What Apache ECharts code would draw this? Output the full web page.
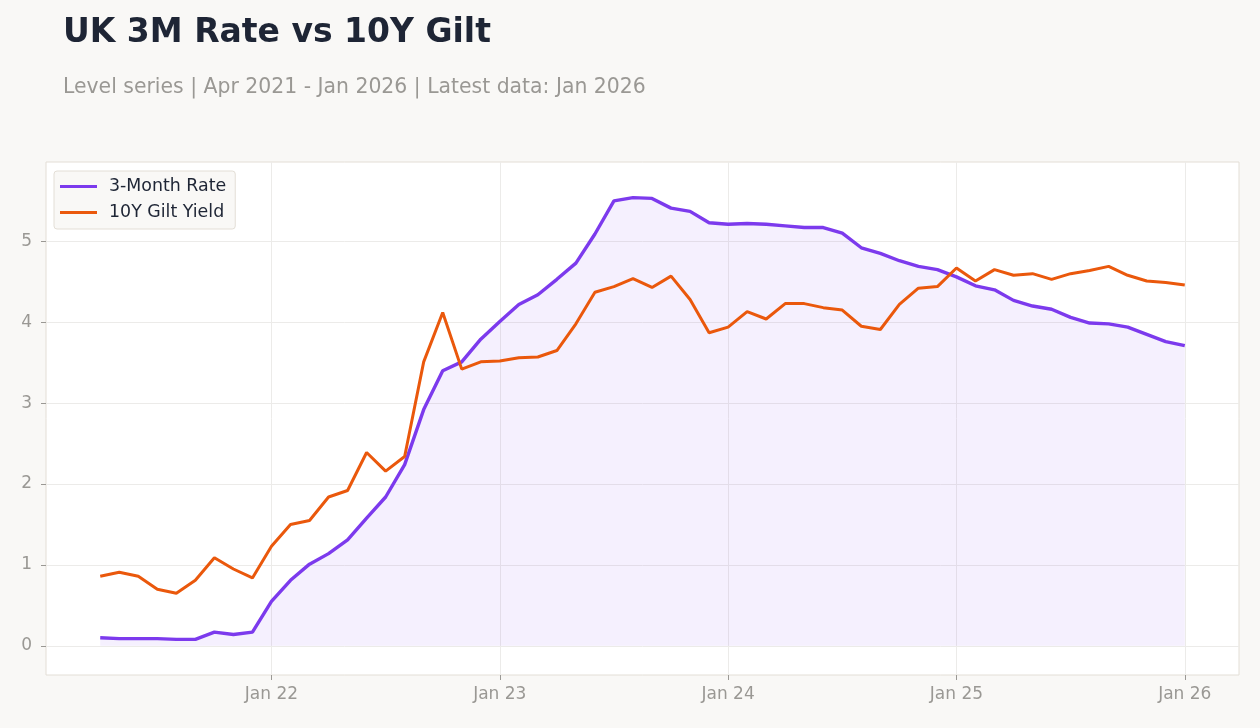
<!DOCTYPE html>
<html>
<head>
<meta charset="utf-8">
<title>UK 3M Rate vs 10Y Gilt</title>
<script src="https://cdn.jsdelivr.net/npm/echarts@6/dist/echarts.min.js"></script>
<style>
  html, body { margin: 0; padding: 0; background: #f9f8f6; }
  #chart { width: 1260px; height: 728px; }
</style>
</head>
<body>
<div id="chart"></div>
<script>
// monthly observations, Apr 2021 .. Jan 2026
const months = [
  '2021-04', '2021-05', '2021-06', '2021-07', '2021-08', '2021-09', '2021-10', '2021-11', '2021-12',
  '2022-01', '2022-02', '2022-03', '2022-04', '2022-05', '2022-06', '2022-07', '2022-08', '2022-09', '2022-10', '2022-11', '2022-12',
  '2023-01', '2023-02', '2023-03', '2023-04', '2023-05', '2023-06', '2023-07', '2023-08', '2023-09', '2023-10', '2023-11', '2023-12',
  '2024-01', '2024-02', '2024-03', '2024-04', '2024-05', '2024-06', '2024-07', '2024-08', '2024-09', '2024-10', '2024-11', '2024-12',
  '2025-01', '2025-02', '2025-03', '2025-04', '2025-05', '2025-06', '2025-07', '2025-08', '2025-09', '2025-10', '2025-11', '2025-12',
  '2026-01'
];

const rate3m = [
  0.10, 0.09, 0.09, 0.09, 0.08, 0.08, 0.17, 0.14, 0.17,
  0.55, 0.81, 1.01, 1.14, 1.31, 1.58, 1.84, 2.24, 2.92, 3.40, 3.51, 3.79,
  4.01, 4.22, 4.34, 4.53, 4.73, 5.09, 5.50, 5.54, 5.53, 5.41, 5.37, 5.23,
  5.21, 5.22, 5.21, 5.19, 5.17, 5.17, 5.10, 4.92, 4.85, 4.76, 4.69, 4.65,
  4.56, 4.45, 4.40, 4.27, 4.20, 4.16, 4.06, 3.99, 3.98, 3.94, 3.85, 3.76,
  3.71
];

const gilt10y = [
  0.86, 0.91, 0.86, 0.70, 0.65, 0.81, 1.09, 0.95, 0.84,
  1.23, 1.50, 1.55, 1.84, 1.92, 2.39, 2.16, 2.34, 3.51, 4.12, 3.42, 3.51,
  3.52, 3.56, 3.57, 3.65, 3.98, 4.37, 4.44, 4.54, 4.43, 4.57, 4.28, 3.87,
  3.94, 4.13, 4.04, 4.23, 4.23, 4.18, 4.15, 3.95, 3.91, 4.22, 4.42, 4.44,
  4.67, 4.51, 4.65, 4.58, 4.60, 4.53, 4.60, 4.64, 4.69, 4.58, 4.51, 4.49,
  4.46
];

const xTickLabels = ['Jan 22', 'Jan 23', 'Jan 24', 'Jan 25', 'Jan 26'];
const yTicks = [0, 1, 2, 3, 4, 5];

const FONT = 'DejaVu Sans';
const GREY = '#9a9894';

// x position = months since Jan 2021
const toMonthIdx = (s) => {
  const [y, m] = s.split('-').map(Number);
  return (y - 2021) * 12 + (m - 1);
};
const xs = months.map(toMonthIdx);
const xTicks = xTickLabels.map(l => (Number(l.slice(4)) - 21) * 12);
const pad = (xs[xs.length - 1] - xs[0]) * 0.05;

const chart = echarts.init(document.getElementById('chart'), null, { renderer: 'canvas' });

chart.setOption({
  backgroundColor: '#f9f8f6',
  animation: false,
  textStyle: { fontFamily: FONT },
  title: [
    {
      text: 'UK 3M Rate vs 10Y Gilt',
      left: 58,
      top: 12,
      textStyle: { fontFamily: FONT, fontSize: 33, fontWeight: 'bold', color: '#1e2535' }
    },
    {
      text: 'Level series | Apr 2021 - Jan 2026 | Latest data: Jan 2026',
      left: 58,
      top: 73,
      textStyle: { fontFamily: FONT, fontSize: 20.4, fontWeight: 'normal', color: GREY }
    }
  ],
  legend: {
    orient: 'vertical',
    left: 54,
    top: 171,
    padding: [7, 9, 8, 6],
    itemGap: 9,
    itemWidth: 37,
    itemHeight: 3,
    icon: 'rect',
    backgroundColor: '#f9f8f6',
    borderColor: '#e3ded6',
    borderWidth: 1,
    borderRadius: 3,
    textStyle: { fontFamily: FONT, fontSize: 17.4, color: '#1e2535', padding: [0, 0, 0, 7] },
    data: ['3-Month Rate', '10Y Gilt Yield']
  },
  grid: {
    left: 46,
    right: 21,
    top: 162,
    bottom: 53,
    show: true,
    backgroundColor: '#ffffff',
    borderColor: '#e3ded6',
    borderWidth: 1
  },
  xAxis: {
    type: 'value',
    min: xs[0] - pad,
    max: xs[xs.length - 1] + pad,
    axisLine: { show: false, onZero: false },
    axisTick: { show: true, length: 5, lineStyle: { color: GREY }, customValues: xTicks },
    axisLabel: {
      customValues: xTicks,
      color: GREY,
      fontSize: 17,
      fontFamily: FONT,
      margin: 11,
      formatter: v => xTickLabels[xTicks.indexOf(v)] || ''
    },
    splitLine: { show: true, lineStyle: { color: '#ecebe9', width: 1 } }
  },
  yAxis: {
    type: 'value',
    min: -0.36,
    max: 5.98,
    axisLine: { show: false, onZero: false },
    axisTick: { show: true, length: 5, lineStyle: { color: GREY }, customValues: yTicks },
    axisLabel: {
      customValues: yTicks,
      color: GREY,
      fontSize: 17,
      fontFamily: FONT,
      margin: 14,
      formatter: v => String(v)
    },
    splitLine: { show: true, lineStyle: { color: '#ecebe9', width: 1 } }
  },
  series: [
    {
      name: '3-Month Rate',
      type: 'line',
      data: xs.map((x, i) => [x, rate3m[i]]),
      showSymbol: false,
      symbol: 'none',
      lineStyle: { width: 3.4, color: '#7c3aed' },
      itemStyle: { color: '#7c3aed' },
      areaStyle: { color: 'rgba(124, 58, 237, 0.11)', origin: 0 },
      z: 2
    },
    {
      name: '10Y Gilt Yield',
      type: 'line',
      data: xs.map((x, i) => [x, gilt10y[i]]),
      showSymbol: false,
      symbol: 'none',
      lineStyle: { width: 3, color: '#ea580c' },
      itemStyle: { color: '#ea580c' },
      z: 3
    }
  ]
});
</script>
</body>
</html>
